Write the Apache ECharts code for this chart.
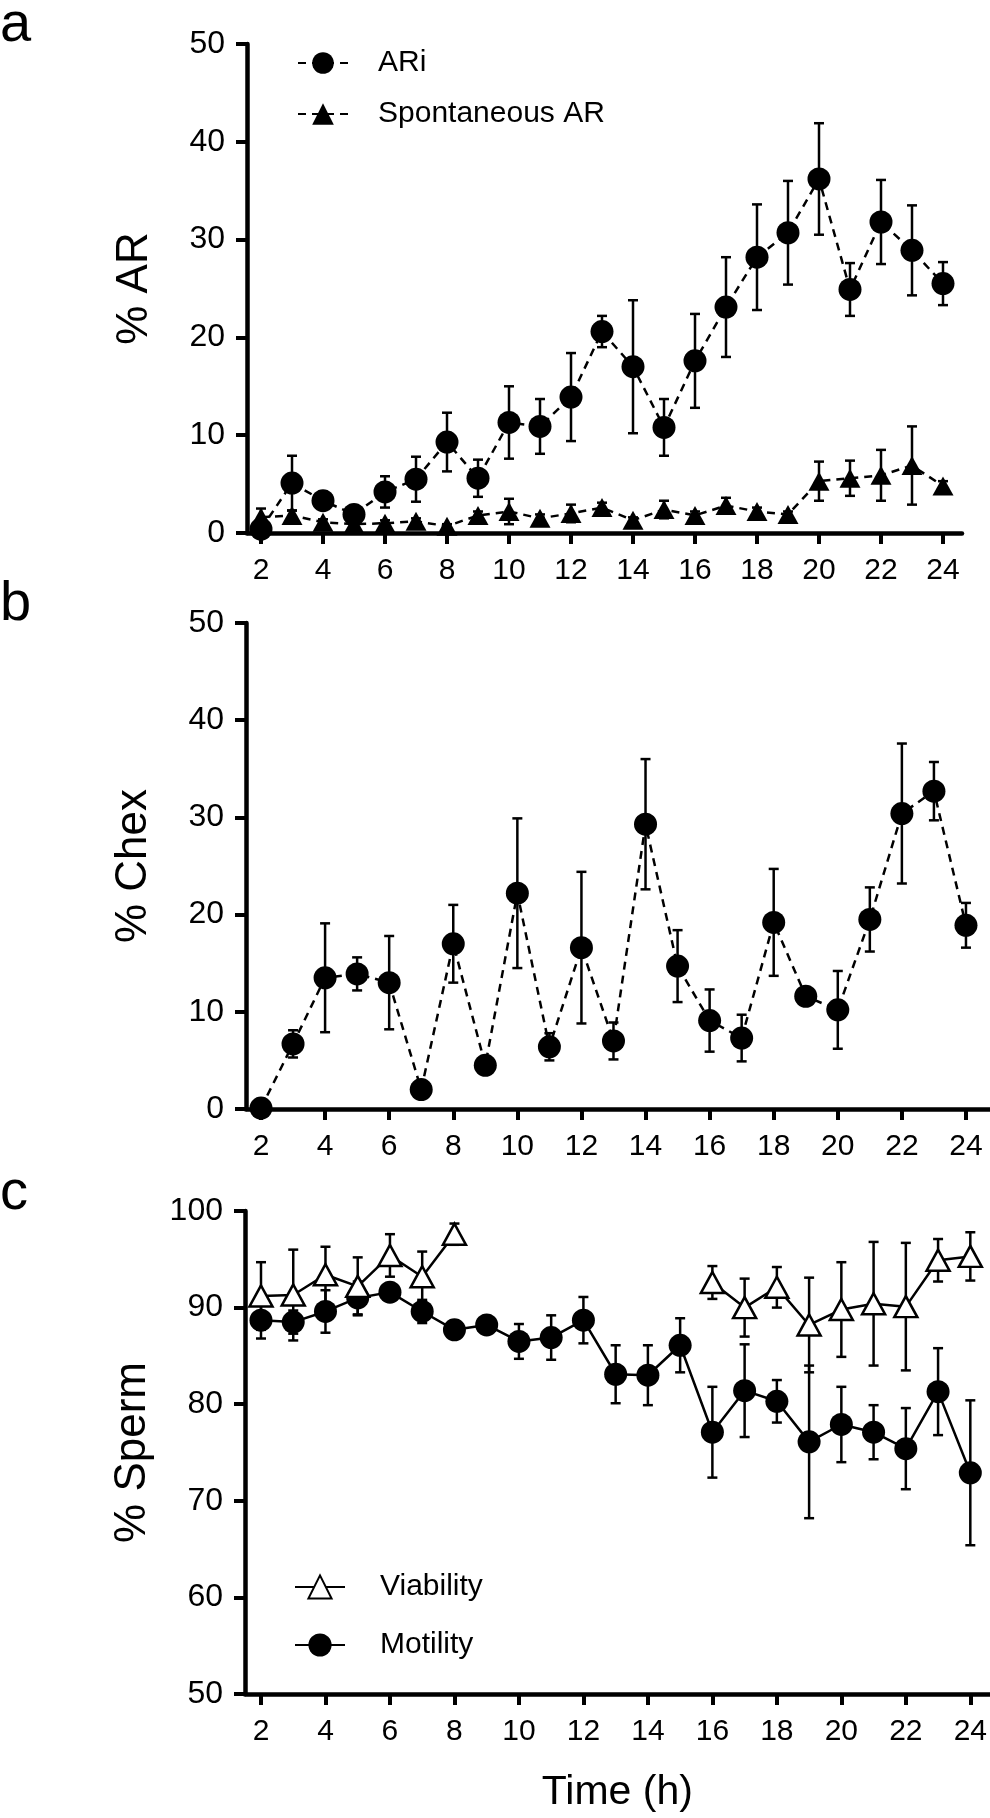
<!DOCTYPE html>
<html>
<head>
<meta charset="utf-8">
<script src="https://cdn.jsdelivr.net/npm/echarts@6/dist/echarts.min.js"></script>
<style>
html,body{margin:0;padding:0;background:#fff;}
#chart{width:990px;height:1818px;}
</style>
</head>
<body>
<div id="chart"></div>
<script>
// ---- data ----
const hours = [2,3,4,5,6,7,8,9,10,11,12,13,14,15,16,17,18,19,20,21,22,23,24];
const xTickValues = [2,4,6,8,10,12,14,16,18,20,22,24];

const ariMean = [0.4,5.1,3.3,1.9,4.2,5.5,9.3,5.6,11.3,10.9,13.9,20.6,17.0,10.8,17.6,23.1,28.2,30.7,36.2,24.9,31.8,28.9,25.5];
const ariErr  = [0.5,2.8,0.9,0.6,1.6,2.3,3.0,1.9,3.7,2.8,4.5,1.6,6.8,2.9,4.8,5.1,5.4,5.3,5.7,2.7,4.3,4.6,2.2];

const sponMean = [1.6,1.8,1.1,0.9,1.0,1.2,0.7,1.8,2.2,1.5,2.0,2.6,1.3,2.4,1.8,2.8,2.2,1.9,5.3,5.6,5.9,6.9,4.8];
const sponErr  = [0.9,0.5,0.3,0.2,0.3,0.3,0.2,0.4,1.3,0.4,0.9,0.5,0.3,0.9,0.4,0.8,0.4,0.3,2.0,1.8,2.6,4.0,0.5];

const chexMean = [0.1,6.7,13.5,13.9,13.0,2.0,17.0,4.5,22.2,6.4,16.6,7.0,29.3,14.7,9.1,7.3,19.2,11.6,10.2,19.5,30.4,32.7,18.9];
const chexErr  = [0,1.4,5.6,1.7,4.8,0,4.0,0,7.7,1.4,7.8,1.9,6.7,3.7,3.2,2.4,5.5,0.3,4.0,3.3,7.2,3.0,2.3];

const viaMean = [91.2,91.3,93.4,92.2,95.4,93.2,97.6,null,null,null,null,null,null,null,92.6,90.0,92.1,88.2,89.8,90.4,90.1,94.9,95.3];
const viaErr  = [3.5,4.7,2.9,3.0,2.2,2.6,1.1,null,null,null,null,null,null,null,1.7,3.0,2.1,4.9,4.9,6.4,6.6,2.2,2.5];

const motMean = [88.7,88.5,89.6,91.0,91.6,89.6,87.7,88.2,86.5,86.9,88.7,83.1,83.0,86.1,77.1,81.4,80.3,76.1,77.9,77.1,75.4,81.3,72.9];
const motErr  = [1.9,1.2,2.2,1.7,0.5,1.2,0.5,0.4,1.8,2.3,2.4,3.0,3.1,2.8,4.7,4.8,2.2,7.9,3.9,2.8,4.2,4.5,7.5];

// ---- helpers ----
const FONT = 'Liberation Sans, Arial, Helvetica, sans-serif';
function pts(mean){ return hours.map((h,i)=>[h, mean[i]==null?'-':mean[i]]); }
function errPts(mean, err){
  const out=[];
  hours.forEach((h,i)=>{ if(mean[i]!=null && err[i]) out.push([h, mean[i]-err[i], mean[i]+err[i]]); });
  return out;
}
function renderErr(params, api){
  const x = api.value(0), lo = api.value(1), hi = api.value(2);
  const a = api.coord([x, hi]), b = api.coord([x, lo]);
  const hw = 5;
  const st = {stroke:'#000', lineWidth:2.5};
  return {type:'group', children:[
    {type:'line', shape:{x1:a[0],y1:a[1],x2:b[0],y2:b[1]}, style:st},
    {type:'line', shape:{x1:a[0]-hw,y1:a[1],x2:a[0]+hw,y2:a[1]}, style:st},
    {type:'line', shape:{x1:b[0]-hw,y1:b[1],x2:b[0]+hw,y2:b[1]}, style:st}
  ]};
}
function errSeries(mean, err, idx){
  return {type:'custom', xAxisIndex:idx, yAxisIndex:idx, renderItem:renderErr,
    data: errPts(mean, err), z:2, silent:true, clip:false,
    encode:{x:0, y:[1,2]}};
}
function xAx(idx, min, max, withName){
  const ax = {type:'value', gridIndex:idx, min:min, max:max,
    axisLine:{show:true, onZero:false, lineStyle:{color:'#000', width:4.5}},
    axisTick:{show:true, length:11, customValues:xTickValues, lineStyle:{color:'#000', width:4}},
    axisLabel:{customValues:xTickValues, fontSize:30, color:'#000', fontFamily:FONT, margin:23},
    splitLine:{show:false}};
  if(withName){
    ax.name = 'Time (h)'; ax.nameLocation='middle'; ax.nameGap=78;
    ax.nameTextStyle = {fontSize:41, color:'#000', fontFamily:FONT};
  }
  return ax;
}
function yAx(idx, min, max, name){
  return {type:'value', gridIndex:idx, min:min, max:max, interval:10,
    name:name, nameLocation:'middle', nameGap:90,
    nameTextStyle:{fontSize:44, color:'#000', fontFamily:FONT},
    axisLine:{show:true, lineStyle:{color:'#000', width:4.5}},
    axisTick:{show:true, length:11, lineStyle:{color:'#000', width:4}},
    axisLabel:{fontSize:32, color:'#000', fontFamily:FONT, margin:22},
    splitLine:{show:false}};
}

const chart = echarts.init(document.getElementById('chart'), null, {renderer:'canvas'});
const dashed = {color:'#000', width:2.5, type:[8,6]};
const solid = {color:'#000', width:2.5, type:'solid'};

chart.setOption({
  animation:false,
  backgroundColor:'#fff',
  textStyle:{fontFamily:FONT},
  grid:[
    {left:247, top:44, width:715, height:489},
    {left:246, top:623, width:744, height:486},
    {left:245, top:1211, width:745, height:483}
  ],
  xAxis:[
    xAx(0, 1.548, 24.613, false),
    xAx(1, 1.532, 24.75, false),
    xAx(2, 1.504, 24.6, true)
  ],
  yAxis:[
    yAx(0, 0, 50, '% AR'),
    yAx(1, 0, 50, '% Chex'),
    yAx(2, 50, 100, '% Sperm')
  ],
  legend:[
    {data:['ARi','Spontaneous AR'], orient:'vertical', left:297, top:48, padding:0,
     itemWidth:50, itemHeight:27, itemGap:21,
     textStyle:{fontSize:30, color:'#000', fontFamily:FONT, padding:[0,0,0,25]}},
    {data:['Viability','Motility'], orient:'vertical', left:294, top:1572, padding:0,
     itemWidth:50, itemHeight:29, itemGap:28,
     textStyle:{fontSize:30, color:'#000', fontFamily:FONT, padding:[0,0,0,30]}}
  ],
  graphic:[
    {type:'text', left:0, top:-2, style:{text:'a', fontSize:56, fill:'#000', fontFamily:FONT}},
    {type:'text', left:0, top:577, style:{text:'b', fontSize:56, fill:'#000', fontFamily:FONT}},
    {type:'text', left:0, top:1166, style:{text:'c', fontSize:56, fill:'#000', fontFamily:FONT}}
  ],
  series:[
    errSeries(ariMean, ariErr, 0),
    errSeries(sponMean, sponErr, 0),
    {name:'ARi', type:'line', xAxisIndex:0, yAxisIndex:0, data:pts(ariMean),
     symbol:'circle', symbolSize:23, lineStyle:dashed, itemStyle:{color:'#000'}, z:3},
    {name:'Spontaneous AR', type:'line', xAxisIndex:0, yAxisIndex:0, data:pts(sponMean),
     symbol:'triangle', symbolSize:[21,19], lineStyle:dashed, itemStyle:{color:'#000'}, z:3},

    errSeries(chexMean, chexErr, 1),
    {name:'Chex', type:'line', xAxisIndex:1, yAxisIndex:1, data:pts(chexMean),
     symbol:'circle', symbolSize:23, lineStyle:dashed, itemStyle:{color:'#000'}, z:3},

    errSeries(viaMean, viaErr, 2),
    errSeries(motMean, motErr, 2),
    {name:'Viability', type:'line', xAxisIndex:2, yAxisIndex:2, data:pts(viaMean), connectNulls:false,
     symbol:'triangle', symbolSize:[23,21], lineStyle:solid,
     itemStyle:{color:'#fff', borderColor:'#000', borderWidth:2.5}, z:4},
    {name:'Motility', type:'line', xAxisIndex:2, yAxisIndex:2, data:pts(motMean),
     symbol:'circle', symbolSize:23, lineStyle:solid, itemStyle:{color:'#000'}, z:3}
  ]
});
</script>
</body>
</html>
